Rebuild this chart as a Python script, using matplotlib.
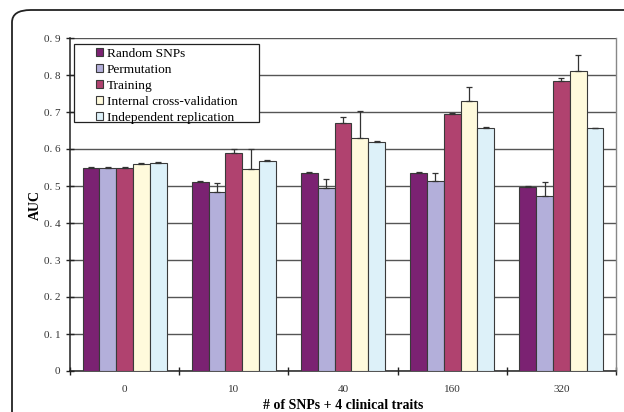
import matplotlib
matplotlib.use("Agg")
import matplotlib.pyplot as plt
import numpy as np
from matplotlib.patches import FancyBboxPatch, Rectangle

groups = ["0", "10", "40", "160", "320"]
series = ["Random SNPs", "Permutation", "Training", "Internal cross-validation", "Independent replication"]
colors = ["#7B2272", "#B3AFDA", "#B0426F", "#FFFADC", "#DDF1F9"]

random_snps = [0.550, 0.510, 0.534, 0.535, 0.497]
permutation = [0.550, 0.485, 0.494, 0.513, 0.472]
training    = [0.548, 0.588, 0.670, 0.695, 0.783]
internal_cv = [0.560, 0.545, 0.630, 0.731, 0.810]
indep_rep   = [0.562, 0.568, 0.619, 0.657, 0.657]

err_random = [0.001, 0.003, 0.004, 0.004, 0.004]
err_perm   = [0.001, 0.022, 0.026, 0.022, 0.040]
err_train  = [0.003, 0.013, 0.016, 0.002, 0.009]
err_icv    = [0.003, 0.055, 0.073, 0.037, 0.044]
err_indep  = [0.003, 0.002, 0.003, 0.003, 0.001]

values = [random_snps, permutation, training, internal_cv, indep_rep]
errors = [err_random, err_perm, err_train, err_icv, err_indep]

plt.rcParams['font.family'] = ['Liberation Serif', 'DejaVu Serif']

fig = plt.figure(figsize=(6.24, 4.12), dpi=100)

# rounded frame (clipped at right and bottom)
frame = FancyBboxPatch((12/624, -0.3), 1.5, 1.3 - 10/412,
                       boxstyle="round,pad=0,rounding_size=0.03",
                       transform=fig.transFigure, fill=False,
                       edgecolor="#222222", linewidth=1.3, clip_on=False)
fig.patches.append(frame)

ax = fig.add_axes([70/624, 41/412, 546/624, 333/412])

x = np.arange(len(groups))
w = 0.154
offsets = (np.arange(5) - 2) * w
for i in range(5):
    ax.bar(x + offsets[i], values[i], width=w, color=colors[i],
           edgecolor="#3a3a3a", linewidth=0.8, label=series[i], zorder=3)
    ax.errorbar(x + offsets[i], values[i], yerr=[np.zeros(5), errors[i]],
                fmt='none', ecolor="#333333", elinewidth=0.9, capsize=2,
                capthick=0.9, zorder=4)

ax.set_xlim(-0.5, 4.5)
ax.set_ylim(0, 0.9)
ax.set_yticks(np.arange(0, 0.91, 0.1))
ax.set_yticklabels(["0"] + ["0. %d" % k for k in range(1, 10)], fontsize=8, color="#333333")
ax.yaxis.grid(True, color="#555555", linewidth=1.0, zorder=0)
ax.set_axisbelow(True)

ax.set_xticks(x)
ax.set_xticklabels(groups, fontsize=8, color="#333333")
ax.tick_params(axis='x', which='major', length=0, pad=10)
ax.set_xticks(np.arange(-0.5, 4.6, 1.0), minor=True)
ax.tick_params(axis='x', which='minor', direction='inout', length=6, width=1, color="#222222")
ax.tick_params(axis='y', direction='inout', length=6, width=1, color="#222222", pad=4)

for s in ["left", "bottom"]:
    ax.spines[s].set_color("#222222")
    ax.spines[s].set_linewidth(1.1)
ax.spines["top"].set_visible(False)
ax.spines["right"].set_color("#888888")
ax.spines["right"].set_linewidth(1.0)

ax.set_ylabel("AUC", fontsize=10, fontweight='bold', labelpad=1)
ax.set_xlabel("# of SNPs + 4 clinical traits", fontsize=10, fontweight='bold', labelpad=4)

# legend box
box = Rectangle((4/546, (371-122)/333), 185/546, 78/333, transform=ax.transAxes,
                facecolor="white", edgecolor="#222222", linewidth=0.9, zorder=9)
ax.add_patch(box)
leg = ax.legend(loc='upper left', bbox_to_anchor=(26/546, (371-48)/333), fontsize=9.6,
                frameon=False,
                handlelength=0.55, handleheight=0.55, handletextpad=0.25,
                labelspacing=0.3, borderpad=0.0, borderaxespad=0.0)
leg.set_zorder(10)

fig.savefig("out.png", dpi=100)
